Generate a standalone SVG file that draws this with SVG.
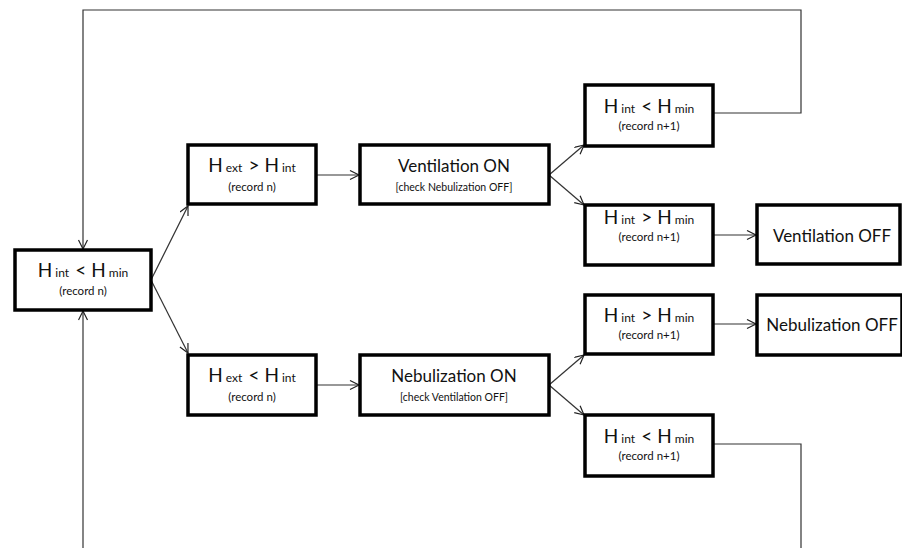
<svg xmlns="http://www.w3.org/2000/svg" width="902" height="548" viewBox="0 0 902 548">
<defs>
<style>
.box{fill:#fff;stroke:#000;stroke-width:3.5}
.ln{fill:none;stroke:#333;stroke-width:1.2}
.t{font-family:Lato,"Open Sans","Liberation Sans",sans-serif;fill:#111;text-anchor:middle;white-space:pre}
.big{font-size:17px}
.h{font-size:19px}
.sm{font-size:11.5px}
.sub{font-size:12px}
.cap{font-size:10.5px}
</style>
<marker id="ah" markerWidth="12" markerHeight="12" refX="10" refY="5" orient="auto" markerUnits="userSpaceOnUse">
<path d="M1,0.5 L10,5 L1,9.5" fill="none" stroke="#222" stroke-width="1.2"/>
</marker>
</defs>
<rect width="902" height="548" fill="#fff"/>
<g id="connectors">
<polyline class="ln" points="713,113 801,113 801,10 83,10 83,249" marker-end="url(#ah)"/>
<polyline class="ln" points="713,444 801,444 801,548"/>
<line class="ln" x1="83" y1="548" x2="83" y2="311" marker-end="url(#ah)"/>
<line class="ln" x1="151" y1="280" x2="188" y2="206" marker-end="url(#ah)"/>
<line class="ln" x1="151" y1="280" x2="188" y2="353" marker-end="url(#ah)"/>
<line class="ln" x1="316" y1="175" x2="359" y2="175" marker-end="url(#ah)"/>
<line class="ln" x1="316" y1="385" x2="359" y2="385" marker-end="url(#ah)"/>
<line class="ln" x1="549" y1="175" x2="584" y2="145" marker-end="url(#ah)"/>
<line class="ln" x1="549" y1="175" x2="584" y2="205" marker-end="url(#ah)"/>
<line class="ln" x1="549" y1="385" x2="584" y2="355" marker-end="url(#ah)"/>
<line class="ln" x1="549" y1="385" x2="584" y2="415" marker-end="url(#ah)"/>
<line class="ln" x1="713" y1="235" x2="756" y2="235" marker-end="url(#ah)"/>
<line class="ln" x1="713" y1="324" x2="756" y2="324" marker-end="url(#ah)"/>
</g>
<g id="n1">
<rect class="box" x="15" y="250" width="136" height="60"/>
<text class="t" x="83" y="277" xml:space="preserve"><tspan class="h">H</tspan><tspan class="sub"> int  </tspan><tspan class="h">&lt; H</tspan><tspan class="sub"> min</tspan></text>
<text class="t sm" x="83" y="295">(record n)</text>
</g>
<g id="n2">
<rect class="box" x="188" y="145" width="128" height="59"/>
<text class="t" x="252" y="172" xml:space="preserve"><tspan class="h">H</tspan><tspan class="sub"> ext  </tspan><tspan class="h">&gt; H</tspan><tspan class="sub"> int</tspan></text>
<text class="t sm" x="252" y="191">(record n)</text>
</g>
<g id="n3">
<rect class="box" x="360" y="145" width="189" height="59"/>
<text class="t big" x="454" y="172">Ventilation ON</text>
<text class="t cap" x="454" y="191">[check Nebulization OFF]</text>
</g>
<g id="n4">
<rect class="box" x="188" y="355" width="128" height="60"/>
<text class="t" x="252" y="382" xml:space="preserve"><tspan class="h">H</tspan><tspan class="sub"> ext  </tspan><tspan class="h">&lt; H</tspan><tspan class="sub"> int</tspan></text>
<text class="t sm" x="252" y="401">(record n)</text>
</g>
<g id="n5">
<rect class="box" x="360" y="355" width="189" height="60"/>
<text class="t big" x="454" y="382">Nebulization ON</text>
<text class="t cap" x="454" y="401">[check Ventilation OFF]</text>
</g>
<g id="n6">
<rect class="box" x="585" y="85" width="128" height="61"/>
<text class="t" x="649" y="113" xml:space="preserve"><tspan class="h">H</tspan><tspan class="sub"> int  </tspan><tspan class="h">&lt; H</tspan><tspan class="sub"> min</tspan></text>
<text class="t sm" x="649" y="130">(record n+1)</text>
</g>
<g id="n7">
<rect class="box" x="585" y="205" width="128" height="60"/>
<text class="t" x="649" y="224" xml:space="preserve"><tspan class="h">H</tspan><tspan class="sub"> int  </tspan><tspan class="h">&gt; H</tspan><tspan class="sub"> min</tspan></text>
<text class="t sm" x="649" y="241">(record n+1)</text>
</g>
<g id="n8">
<rect class="box" x="757" y="205" width="143" height="59"/>
<text class="t big" x="832" y="242">Ventilation OFF</text>
</g>
<g id="n9">
<rect class="box" x="585" y="295" width="128" height="59"/>
<text class="t" x="649" y="322" xml:space="preserve"><tspan class="h">H</tspan><tspan class="sub"> int  </tspan><tspan class="h">&gt; H</tspan><tspan class="sub"> min</tspan></text>
<text class="t sm" x="649" y="339">(record n+1)</text>
</g>
<g id="n10">
<rect class="box" x="757" y="295" width="145" height="60"/>
<text class="t big" x="832" y="331">Nebulization OFF</text>
</g>
<g id="n11">
<rect class="box" x="585" y="415" width="128" height="61"/>
<text class="t" x="649" y="443" xml:space="preserve"><tspan class="h">H</tspan><tspan class="sub"> int  </tspan><tspan class="h">&lt; H</tspan><tspan class="sub"> min</tspan></text>
<text class="t sm" x="649" y="460">(record n+1)</text>
</g>
</svg>
